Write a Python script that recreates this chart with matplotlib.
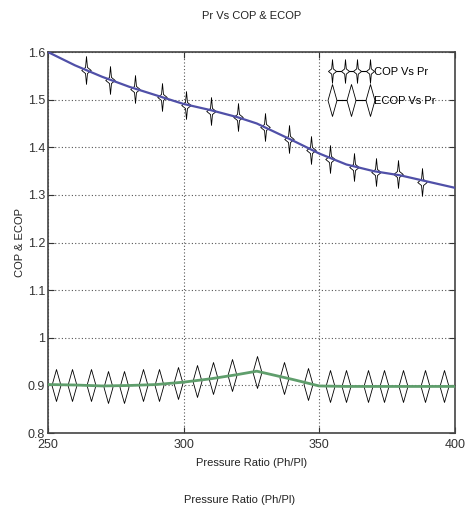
import matplotlib
matplotlib.use("Agg")
import matplotlib.pyplot as plt
from matplotlib.path import Path
from matplotlib.lines import Line2D
from matplotlib.legend_handler import HandlerLine2D

plt.rcParams["font.family"] = ["Liberation Sans Narrow", "Liberation Sans", "DejaVu Sans"]

# smooth curves
pr_line = [250, 260, 270, 280, 290, 300, 310, 320, 327, 340, 350, 360, 370, 380, 390, 400]
cop_line = [1.600, 1.572, 1.548, 1.527, 1.509, 1.491, 1.478, 1.463, 1.450, 1.415, 1.387,
            1.364, 1.350, 1.341, 1.328, 1.315]
ecop_line = [0.902, 0.901, 0.899, 0.900, 0.902, 0.907, 0.914, 0.923, 0.930, 0.913, 0.899,
             0.898, 0.898, 0.898, 0.898, 0.898]

# marker samples
cop_pr = [264, 273, 282, 292, 301, 310, 320, 330, 339, 347, 354, 363, 371, 379, 388]
cop_val = [1.562, 1.541, 1.522, 1.505, 1.488, 1.477, 1.464, 1.443, 1.418, 1.395, 1.376,
           1.359, 1.349, 1.343, 1.328]
ecop_pr = [253, 259, 266, 272, 278, 285, 291, 298, 305, 311, 318, 327, 337, 346, 354,
           360, 368, 374, 381, 389, 396]
ecop_val = [0.902, 0.901, 0.900, 0.897, 0.896, 0.901, 0.902, 0.905, 0.909, 0.915, 0.922,
            0.929, 0.916, 0.904, 0.898, 0.898, 0.898, 0.898, 0.898, 0.899, 0.899]

x_ticks = [250, 300, 350, 400]
y_ticks = [0.8, 0.9, 1, 1.1, 1.2, 1.3, 1.4, 1.5, 1.6]
y_ticklabels = ["0.8", "0.9", "1", "1.1", "1.2", "1.3", "1.4", "1.5", "1.6"]

COP_COLOR = "#5050a8"
ECOP_COLOR = "#5f9e6c"

# tall thin star (COP) and tall diamond (ECOP) markers
star = Path([(0, 1), (0.07, 0.22), (0.34, 0), (0.07, -0.22), (0, -1), (-0.07, -0.22),
             (-0.34, 0), (-0.07, 0.22), (0, 1)], closed=True)
diamond = Path([(0, 1), (0.28, 0), (0, -1), (-0.28, 0), (0, 1)], closed=True)

fig = plt.figure(figsize=(4.65, 5.15), dpi=100)
ax = fig.add_axes([0.103, 0.159, 0.875, 0.740])

ax.plot(cop_pr, cop_val, linestyle="none", marker=star, markersize=20,
        markerfacecolor="white", markeredgecolor="black", markeredgewidth=0.6, zorder=2)
ax.plot(ecop_pr, ecop_val, linestyle="none", marker=diamond, markersize=23,
        markerfacecolor="white", markeredgecolor="black", markeredgewidth=0.6, zorder=2)
ax.plot(pr_line, cop_line, color=COP_COLOR, lw=1.6, zorder=3)
ax.plot(pr_line, ecop_line, color=ECOP_COLOR, lw=2.0, zorder=3)

ax.set_xlim(250, 400)
ax.set_ylim(0.8, 1.6)
ax.set_xticks(x_ticks)
ax.set_yticks(y_ticks)
ax.set_yticklabels(y_ticklabels)
ax.tick_params(direction="in", length=4, top=True, right=True, labelsize=9,
               colors="#333333", width=0.8)
ax.tick_params(axis="x", pad=4)
ax.tick_params(axis="y", pad=2)
ax.grid(True, linestyle=(0, (1, 2)), color="#555555", linewidth=0.8)
for s in ax.spines.values():
    s.set_color("#444444")
    s.set_linewidth(1.2)

ax.set_title("Pr Vs COP & ECOP", fontsize=8, pad=24, color="#222222")
ax.set_xlabel("Pressure Ratio (Ph/Pl)", fontsize=8, labelpad=5, color="#222222")
ax.set_ylabel("COP & ECOP", fontsize=8, labelpad=2, color="#222222")
fig.text(240 / 465, 1 - 500 / 515, "Pressure Ratio (Ph/Pl)", fontsize=8,
         ha="center", va="center", color="#222222")

h_cop = Line2D([], [], color="black", lw=0.8, marker=star, markersize=17,
               markerfacecolor="white", markeredgecolor="black", markeredgewidth=0.6)
h_ecop = Line2D([], [], color="black", lw=0.8, marker=diamond, markersize=23,
                markerfacecolor="white", markeredgecolor="black", markeredgewidth=0.6)
ax.legend([h_cop, h_ecop], ["COP Vs Pr", "ECOP Vs Pr"],
          handler_map={h_cop: HandlerLine2D(numpoints=4), h_ecop: HandlerLine2D(numpoints=3)},
          loc="upper right", frameon=False, fontsize=8, handlelength=4.0,
          handletextpad=0.1, labelspacing=1.7, borderaxespad=0.4,
          bbox_to_anchor=(0.975, 0.985))

fig.savefig("out.png", dpi=100)
